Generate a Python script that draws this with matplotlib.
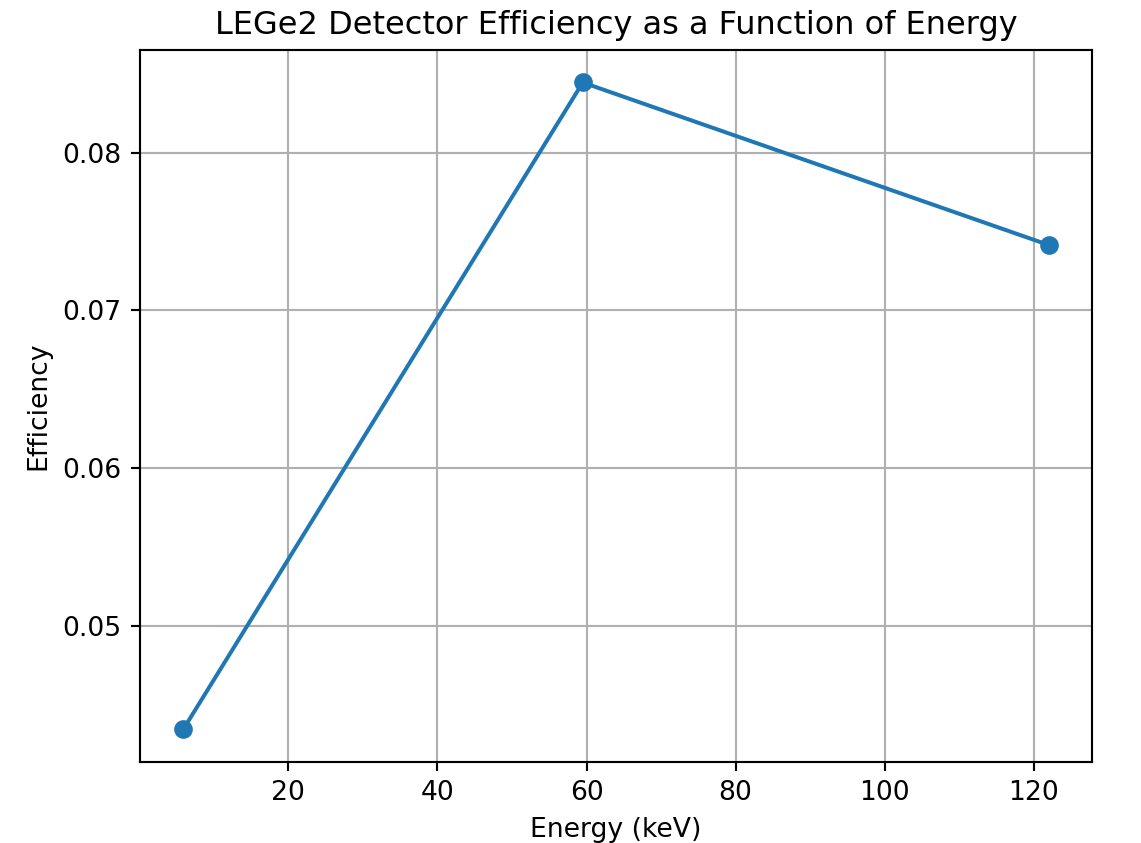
import matplotlib.pyplot as plt

# calibration peaks (keV) and measured efficiency
energies = [5.9, 59.5, 122.0]
efficiency = [0.04345, 0.08445, 0.07415]

fig = plt.figure(figsize=(1141 / 192, 843 / 192), dpi=192)
fig.subplots_adjust(left=0.1227, right=0.957, top=0.9405, bottom=0.0965)
ax = fig.add_subplot(111)

ax.plot(energies, efficiency, marker="o", linestyle="-")
ax.set_xlabel("Energy (keV)")
ax.set_ylabel("Efficiency")
ax.set_title("LEGe2 Detector Efficiency as a Function of Energy")
ax.grid(True)

fig.savefig("out.png", dpi=192)
